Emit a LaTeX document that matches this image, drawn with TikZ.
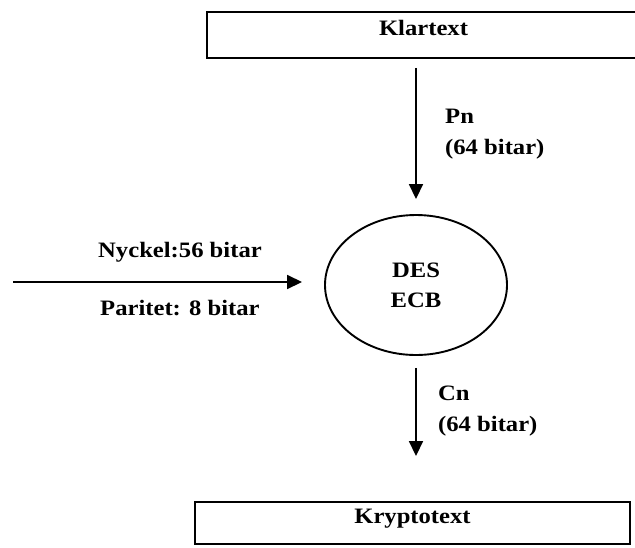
\documentclass[tikz,border=0pt]{standalone}
\usepackage{fontspec}
\setmainfont{Liberation Serif}[FakeStretch=1.12]
\usetikzlibrary{shapes.geometric,arrows.meta}
\begin{document}
\begin{tikzpicture}[x=1pt,y=-1pt,
  txt/.style={font=\fontsize{22}{30}\selectfont\bfseries},
  lbl/.style={txt,inner sep=0pt,anchor=base west},
  boxnode/.style={txt,draw,line width=1.9pt,rectangle,inner sep=0pt,text height=15pt,text depth=15pt},
  proc/.style={txt,draw,ellipse,line width=1.9pt,minimum width=182pt,minimum height=140pt,inner sep=0pt,align=center},
  flow/.style={line width=1.7pt,-{Triangle[length=15pt,width=14pt]}}]
\useasboundingbox (0,0) rectangle (635,547);
\node[boxnode,minimum width=433pt,minimum height=46pt] (klar) at (423.5,35) {Klartext};
\node[boxnode,minimum width=435pt,minimum height=42pt] (krypto) at (412.5,523) {Kryptotext};
\node[proc] (des) at (416,285) {DES\\ECB};
\coordinate (keyin) at (13,282);
\draw[flow,shorten <=9pt,shorten >=15pt] (klar.south -| des.north) -- (des.north);
\draw[flow,shorten <=12pt,shorten >=45pt] (des.south) -- (des.south |- krypto.north);
\draw[flow,shorten >=22pt] (keyin) -- (keyin -| des.west);
\node[lbl] (pn) at (445,123) {Pn};
\node[lbl] (pnbits) at (445,154) {(64 bitar)};
\node[lbl] (cn) at (438,400) {Cn};
\node[lbl] (cnbits) at (438,431) {(64 bitar)};
\node[lbl] (nyckel) at (98,257) {Nyckel:56 bitar};
\node[lbl] (paritet) at (100,315) {Paritet: 8 bitar};
\end{tikzpicture}
\end{document}
